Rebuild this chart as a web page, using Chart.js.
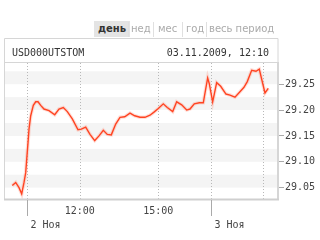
<!DOCTYPE html>
<html><head><meta charset="utf-8">
<script src="https://cdn.jsdelivr.net/npm/chart.js@4/dist/chart.umd.min.js"></script>
<style>
html,body{margin:0;padding:0;background:#fff;}
#wrap{position:relative;width:320px;height:240px;overflow:hidden;}
canvas{position:absolute;left:0;top:0;}
.t{position:absolute;font-family:"DejaVu Sans",Verdana,sans-serif;font-size:10px;line-height:16px;color:#aaa;white-space:nowrap;}
.sel{background:#e4e4e4;color:#333;font-weight:bold;padding:0 4px;}
.sep{position:absolute;width:1px;height:15px;background:#e0e0e0;top:22px;}
.h{position:absolute;font-family:"DejaVu Sans Mono",monospace;font-size:10px;color:#333;top:46px;line-height:14px;white-space:nowrap;}
</style></head>
<body><div id="wrap">
<canvas id="c" width="320" height="240"></canvas>
<div class="t sel" style="left:94px;top:21px;">день</div>
<div class="sep" style="left:128px"></div>
<div class="t" style="left:131px;top:21px;">нед</div>
<div class="sep" style="left:153px"></div>
<div class="t" style="left:158px;top:21px;">мес</div>
<div class="sep" style="left:182px"></div>
<div class="t" style="left:186px;top:21px;">год</div>
<div class="sep" style="left:206px"></div>
<div class="t" style="left:209px;top:21px;">весь период</div>
<div class="h" style="left:12px;">USD000UTSTOM</div>
<div class="h" style="right:51px;">03.11.2009, 12:10</div>
</div>
<script>
// trading hours since 2 Nov 10:00 (session-compressed axis)
const timeHours = [-0.573,-0.443,-0.317,-0.214,-0.126,-0.061,-0.023,0.027,0.065,0.130,0.229,0.321,0.408,0.511,0.637,0.828,1.046,1.210,1.374,1.527,1.718,1.935,2.061,2.229,2.393,2.573,2.737,2.901,3.053,3.206,3.374,3.538,3.718,3.920,4.099,4.302,4.492,4.683,4.836,5.000,5.191,5.344,5.550,5.702,5.893,6.084,6.210,6.374,6.565,6.718,6.821,6.885,6.947,7.076,7.229,7.382,7.584,7.737,7.927,8.092,8.271,8.397,8.565,8.729,8.855,9.073,9.198];
const prices = [29.054,29.060,29.050,29.038,29.060,29.079,29.105,29.137,29.163,29.189,29.209,29.216,29.216,29.209,29.202,29.199,29.191,29.202,29.205,29.197,29.183,29.162,29.163,29.167,29.153,29.141,29.150,29.161,29.153,29.152,29.173,29.186,29.187,29.194,29.189,29.186,29.186,29.190,29.196,29.203,29.212,29.205,29.197,29.216,29.210,29.200,29.202,29.212,29.214,29.214,29.244,29.262,29.251,29.216,29.253,29.246,29.231,29.229,29.225,29.234,29.244,29.255,29.277,29.275,29.279,29.233,29.242];
const yTicks = [29.05,29.10,29.15,29.20,29.25];
const xGridHours = [0,2,5,7,9];
const xTickHours = [2,5];
const xTickLabels = ['12:00','15:00'];
const dateHours = [0,7];
const dateLabels = ['2 Ноя','3 Ноя'];

const pts = timeHours.map((h,i)=>({x:h,y:prices[i]}));

const deco = {
  id:'deco',
  beforeDraw(chart){
    const {ctx, chartArea:a, scales:{x,y}} = chart;
    ctx.save();
    ctx.fillStyle = '#f4f4f4';
    yTicks.forEach(v=>{
      const y1 = y.getPixelForValue(v), y2 = y.getPixelForValue(v+0.025);
      ctx.fillRect(a.left, y2, a.right-a.left, y1-y2);
    });
    ctx.strokeStyle = '#b8b8b8'; ctx.lineWidth = 1; ctx.setLineDash([1,2]);
    xGridHours.forEach(h=>{
      const px = Math.round(x.getPixelForValue(h))+0.5;
      ctx.beginPath(); ctx.moveTo(px,a.top); ctx.lineTo(px,a.bottom); ctx.stroke();
    });
    ctx.setLineDash([]);
    ctx.strokeStyle = '#d6d6d6';
    ctx.beginPath();
    ctx.moveTo(4.5,a.bottom); ctx.lineTo(4.5,38.5); ctx.lineTo(a.right,38.5); ctx.lineTo(a.right,a.bottom);
    ctx.moveTo(4,62.5); ctx.lineTo(a.right,62.5);
    ctx.stroke();
    ctx.restore();
  },
  afterDraw(chart){
    const {ctx, chartArea:a, scales:{x}} = chart;
    ctx.save();
    ctx.strokeStyle = '#cfcfcf'; ctx.lineWidth = 2;
    ctx.beginPath(); ctx.moveTo(4,a.bottom+0.5); ctx.lineTo(a.right+1,a.bottom+0.5); ctx.stroke();
    ctx.lineWidth = 1; ctx.strokeStyle = '#aaa';
    ctx.font = '10px "DejaVu Sans Mono", monospace';
    ctx.fillStyle = '#444';
    ctx.textBaseline = 'middle';
    ctx.textAlign = 'center';
    xTickHours.forEach((h,i)=>{
      ctx.fillText(xTickLabels[i], x.getPixelForValue(h), 211);
    });
    ctx.textAlign = 'left';
    dateHours.forEach((h,i)=>{
      const px = Math.round(x.getPixelForValue(h))+0.5;
      ctx.beginPath(); ctx.moveTo(px,a.bottom+1); ctx.lineTo(px,216); ctx.stroke();
      ctx.fillText(dateLabels[i], px+3, 225);
    });
    ctx.restore();
  }
};

new Chart(document.getElementById('c'), {
  type:'line',
  data:{datasets:[
    {data:pts, borderColor:'#ff4422', borderWidth:1.4, pointRadius:0, tension:0, fill:false},
    {data:pts, borderColor:'rgba(255,140,120,0.28)', borderWidth:3.6, pointRadius:0, tension:0, fill:false}
  ]},
  options:{
    responsive:false, animation:false, devicePixelRatio:1,
    layout:{padding:{left:4, top:63, right:0, bottom:41}},
    plugins:{legend:{display:false}, tooltip:{enabled:false}},
    scales:{
      x:{type:'linear', display:false, min:-0.89, max:9.57},
      y:{type:'linear', position:'right', min:29.028, max:29.291,
        afterFit(s){ s.width = 42; },
        afterBuildTicks(s){ s.ticks = yTicks.map(v=>({value:v})); },
        grid:{drawOnChartArea:false, drawTicks:true, tickLength:6, color:'#aaa'},
        border:{display:true, color:'#d6d6d6', width:2},
        ticks:{padding:1, color:'#444', font:{family:'"DejaVu Sans Mono", monospace', size:10},
          callback:v=>v.toFixed(2)}
      }
    }
  },
  plugins:[deco]
});
</script>
</body></html>
